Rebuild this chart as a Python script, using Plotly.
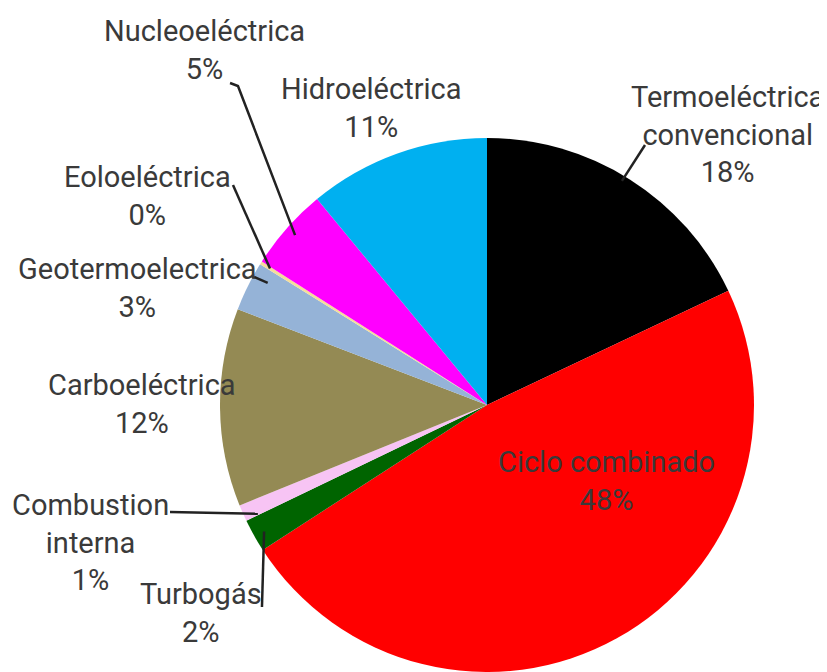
import math
import plotly.graph_objects as go

# Generación bruta por tipo de central (%), en el orden del gráfico (horario desde las 12)
categorias = [
    "Termoeléctrica convencional", "Ciclo combinado", "Turbogás",
    "Combustion interna", "Carboeléctrica", "Geotermoeléctrica",
    "Eoloeléctrica", "Nucleoeléctrica", "Hidroeléctrica",
]
valores = [18, 48, 2, 1, 12, 3, 0.2, 5, 11]
etiquetas_pct = ["18%", "48%", "2%", "1%", "12%", "3%", "0%", "5%", "11%"]
colores = ["#000000", "#ff0000", "#006400", "#f7c4f4", "#948a54",
           "#95b3d7", "#f5dc9a", "#ff00ff", "#00b0f0"]

OFF = 8  # margen del body de la página
W, H = 827 - OFF, 672 - OFF
CX, CY, R = 487, 405, 267  # centro y radio del pastel en px de pantalla
FONT = "Roboto, Liberation Sans, sans-serif"
TXT = "#3a3a3a"

# texto de cada etiqueta: (nombre con saltos, x, y del centro del bloque)
rotulos = {
    "Termoeléctrica convencional": ("Termoeléctrica<br>convencional", 727, 135),
    "Ciclo combinado": ("Ciclo combinado", 606, 481),
    "Turbogás": ("Turbogás", 201, 613),
    "Combustion interna": ("Combustion<br>interna", 90, 542),
    "Carboeléctrica": ("Carboeléctrica", 142, 404),
    "Geotermoeléctrica": ("Geotermoelectrica", 137, 288),
    "Eoloeléctrica": ("Eoloeléctrica", 147, 196),
    "Nucleoeléctrica": ("Nucleoeléctrica", 204, 50),
    "Hidroeléctrica": ("Hidroeléctrica", 371, 108),
}

# líneas guía: puntos del lado del texto, fracción dentro del sector y radio relativo
guias = {
    "Termoeléctrica convencional": ([(645, 145)], 0.48, 0.98),
    "Turbogás": ([(262, 607)], 0.46, 0.96),
    "Combustion interna": ([(170, 512)], 0.08, 0.95),
    "Geotermoeléctrica": ([(254, 277)], 0.75, 0.94),
    "Eoloeléctrica": ([(233, 185)], 0.5, 0.96),
    "Nucleoeléctrica": ([(230, 83), (238, 86)], 0.5, 0.96),
}


def px_a_papel(x, y):
    return (x - OFF) / W, 1 - (y - OFF) / H


fig = go.Figure()
fig.add_trace(go.Pie(
    labels=categorias, values=valores, sort=False, direction="clockwise",
    rotation=0, textinfo="none", hoverinfo="label+percent",
    marker=dict(colors=colores, line=dict(width=0)),
    domain=dict(x=[(CX - OFF - R) / W, (CX - OFF + R) / W],
                y=[max(0, 1 - (CY - OFF + R) / H), 1 - (CY - OFF - R) / H]),
    showlegend=False,
))

total = sum(valores)
acum = 0
angulos = {}
for nom, v in zip(categorias, valores):
    angulos[nom] = (acum / total * 360, (acum + v) / total * 360)
    acum += v

for nom, pct in zip(categorias, etiquetas_pct):
    texto, x, y = rotulos[nom]
    xp, yp = px_a_papel(x, y)
    fig.add_annotation(
        x=xp, y=yp, xref="paper", yref="paper", showarrow=False,
        xanchor="center", yanchor="middle",
        text=f"{texto}<br>{pct}", align="center",
        font=dict(family=FONT, size=29, color=TXT),
    )

for nom, (puntos, frac, rr) in guias.items():
    a0, a1 = angulos[nom]
    ang = math.radians(a0 + (a1 - a0) * frac)
    fin = (CX + rr * R * math.sin(ang), CY - rr * R * math.cos(ang))
    pts = [px_a_papel(*p) for p in puntos + [fin]]
    path = "M " + " L ".join(f"{px_:.4f},{py_:.4f}" for px_, py_ in pts)
    fig.add_shape(type="path", path=path, xref="paper", yref="paper",
                  line=dict(color="#222222", width=2.5))

fig.update_layout(
    width=W, height=H, margin=dict(l=0, r=0, t=0, b=0),
    paper_bgcolor="white", plot_bgcolor="white",
)
fig.write_html("out.html")
